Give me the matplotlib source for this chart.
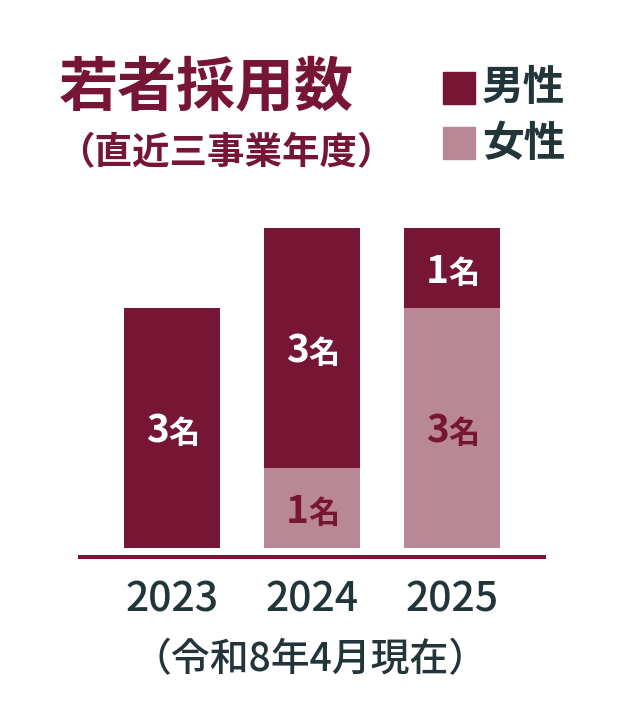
import matplotlib
matplotlib.use("Agg")
import matplotlib.pyplot as plt
import numpy as np

plt.rcParams["font.family"] = ["Noto Sans CJK JP", "DejaVu Sans"]

years = ["2023", "2024", "2025"]
female = [0, 1, 3]
male = [3, 3, 1]

MAROON = "#761634"
PINK = "#B98896"
DARK = "#22353A"

W, H = 624, 704
fig = plt.figure(figsize=(W / 100, H / 100), dpi=100)


def fx(x):
    return x / W


def fy(y):
    return 1 - y / H


# axes: x from 80 to 544 px, y from 548 (value 0) to 228 (value 4)
ax = fig.add_axes([fx(80), fy(548), (544 - 80) / W, (548 - 228) / H])
x = np.arange(len(years))
bw = 96 / 140
ax.bar(x, female, bw, color=PINK, linewidth=0)
ax.bar(x, male, bw, bottom=female, color=MAROON, linewidth=0)
ax.set_xlim(-92 / 140, (464 - 92) / 140)
ax.set_ylim(0, 4)
ax.axis("off")
ax.axhline(-9 / 80, color=MAROON, lw=2.9, clip_on=False)


def seg_label(xi, mid, n, color):
    ax.annotate(str(n), (xi, mid), xytext=(-2.5, -10.5), textcoords="offset points",
                ha="right", va="baseline", fontsize=28, fontweight="bold", color=color)
    ax.annotate("名", (xi, mid), xytext=(-2.5, -10.5), textcoords="offset points",
                ha="left", va="baseline", fontsize=22.5, fontweight="bold", color=color)


for i in range(len(years)):
    if female[i]:
        seg_label(x[i], female[i] / 2, female[i], MAROON)
    if male[i]:
        seg_label(x[i], female[i] + male[i] / 2, male[i], "white")
    ax.text(x[i], -0.65, years[i], ha="center", va="center", fontsize=29.5,
            fontweight="medium", color=DARK)

fig.text(fx(59), fy(88), "若者採用数", ha="left", va="center", fontsize=42.5,
         fontweight="bold", color=MAROON)
fig.text(fx(57), fy(153), "（直近三事業年度）", ha="left", va="center", fontsize=27,
         fontweight="bold", color=MAROON)

# legend
fig.patches.append(plt.Rectangle((fx(443), fy(104)), 32 / W, 32 / H,
                                 transform=fig.transFigure, color=MAROON))
fig.patches.append(plt.Rectangle((fx(443), fy(159)), 32 / W, 32 / H,
                                 transform=fig.transFigure, color=PINK))
fig.text(fx(482), fy(88), "男性", ha="left", va="center", fontsize=30,
         fontweight="bold", color=DARK)
fig.text(fx(482), fy(144), "女性", ha="left", va="center", fontsize=30,
         fontweight="bold", color=DARK)

fig.text(fx(310), fy(660), "（令和8年4月現在）", ha="center", va="center",
         fontsize=28, fontweight="medium", color=DARK)

fig.savefig("out.png", dpi=100, facecolor="white")
